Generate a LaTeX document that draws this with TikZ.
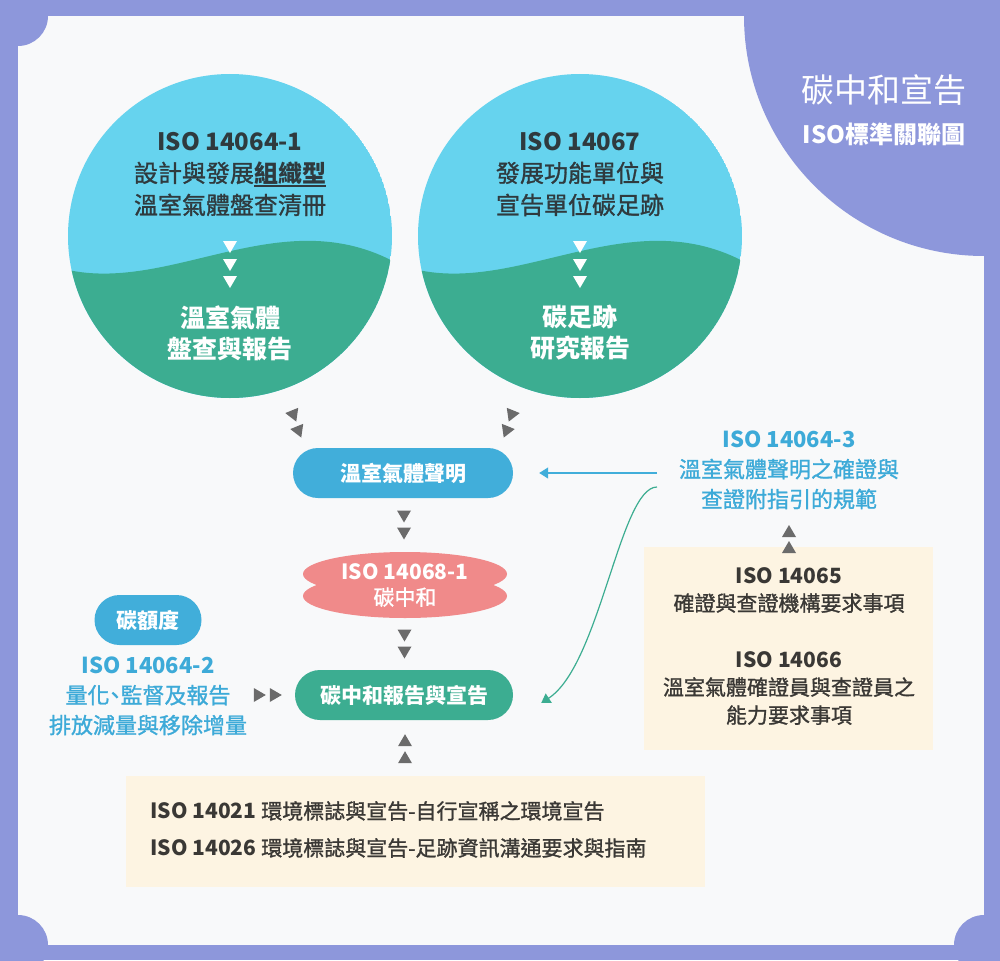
\documentclass[tikz,border=0pt]{standalone}
\usepackage{fontspec}
\setmainfont{Noto Sans CJK TC}
\newfontfamily\medfont{Noto Sans CJK TC}[UprightFeatures={FakeBold=1.2}]
\usetikzlibrary{calc,arrows.meta}
\definecolor{purp}{HTML}{8D97DB}
\definecolor{panel}{HTML}{F8F9FA}
\definecolor{sky}{HTML}{66D3EE}
\definecolor{sea}{HTML}{3CAD91}
\definecolor{pillblue}{HTML}{41AEDA}
\definecolor{txtblue}{HTML}{3DAAD8}
\definecolor{rose}{HTML}{F08A8A}
\definecolor{cream}{HTML}{FDF4E2}
\definecolor{gry}{HTML}{6B6B6B}
\definecolor{dark}{HTML}{3A3835}
\definecolor{slate}{HTML}{2F3A3E}
\newcommand{\ulbar}[1]{\setbox0=\hbox{#1}\rlap{\rule[-5pt]{\wd0}{1.8pt}}\box0}

\begin{document}
\begin{tikzpicture}[x=1pt,y=-1pt,
  pill/.style={rounded corners=25pt,minimum height=50pt,inner sep=0pt,text=white,font=\fontsize{21}{25}\selectfont\bfseries},
  tri/.pic={\fill (-7,-6)--(7,-6)--(0,6)--cycle;}]
\useasboundingbox (0,0) rectangle (1000,960);
% frame
\fill[purp] (0,0) rectangle (1000,960);
\fill[panel] (18,16) rectangle (984,945);
\fill[purp] (984,16) circle (240pt);
\fill[purp] (18,16) circle (30pt) (18,945) circle (30pt) (984,945) circle (30pt);
\node[white,font=\fontsize{33}{36}\selectfont] (t) at (884,90) {碳中和宣告};
\node[white,font=\fontsize{24}{28}\selectfont\bfseries] (s) at (884,134) {ISO標準關聯圖};

% two circles
\node[circle,minimum size=324pt,inner sep=0pt] (cl) at (230,236) {};
\node[circle,minimum size=324pt,inner sep=0pt] (cr) at (580,236) {};
\begin{scope}
\clip (cl.center) circle (162pt);
\fill[sky] (cl.center) circle (162pt);
\fill[sea] (60,268) .. controls (170,298) and (285,194) .. (405,268) -- (405,420) -- (60,420) -- cycle;
\end{scope}
\begin{scope}
\clip (cr.center) circle (162pt);
\fill[sky] (cr.center) circle (162pt);
\fill[sea] (410,268) .. controls (520,298) and (635,194) .. (755,268) -- (755,420) -- (410,420) -- cycle;
\end{scope}
\begin{scope}[every node/.style={align=center}]
\node[slate,font=\fontsize{24}{32}\selectfont\medfont] (a1) at (230,174) {\textbf{ISO 14064-1}\\設計與發展\ulbar{\textbf{組織型}}\\溫室氣體盤查清冊};
\node[white,font=\fontsize{25}{31}\selectfont\bfseries] (a2) at (230,333) {溫室氣體\\盤查與報告};
\node[slate,font=\fontsize{24}{32}\selectfont\medfont] (b1) at (580,174) {\textbf{ISO 14067}\\發展功能單位與\\宣告單位碳足跡};
\node[white,font=\fontsize{25}{31}\selectfont\bfseries] (b2) at (580,333) {碳足跡\\研究報告};
\end{scope}
\pic[fill=white] at (230,247) {tri};
\pic[fill=white] at (230,265) {tri};
\pic[fill=white] at (230,282) {tri};
\pic[fill=white] at (580,247) {tri};
\pic[fill=white] at (580,265) {tri};
\pic[fill=white] at (580,282) {tri};
\pic[fill=gry,rotate=22] at (294,416) {tri};
\pic[fill=gry,rotate=22] at (299,432) {tri};
\pic[fill=gry,rotate=-22] at (511,416) {tri};
\pic[fill=gry,rotate=-22] at (506,432) {tri};

% middle column
\node[pill,fill=pillblue,minimum width=220pt] (ghg) at (403,473) {溫室氣體聲明};
\fill[rose] (405,574) ellipse [x radius=102pt,y radius=22pt];
\fill[rose] (405,596) ellipse [x radius=102pt,y radius=22pt];
\node[white,align=center,minimum width=204pt,minimum height=66pt,font=\fontsize{21}{26}\selectfont\medfont] (cn) at (405,585) {\textbf{ISO 14068-1}\\碳中和};
\node[pill,fill=sea,minimum width=218pt] (rep) at (404,695) {碳中和報告與宣告};
\pic[fill=gry] at ($(ghg.south)!.5!(cn.north)+(0,-8.5)$) {tri};
\pic[fill=gry] at ($(ghg.south)!.5!(cn.north)+(0,8.5)$) {tri};
\pic[fill=gry] at ($(cn.south)!.5!(rep.north)+(0,-8.5)$) {tri};
\pic[fill=gry] at ($(cn.south)!.5!(rep.north)+(0,8.5)$) {tri};

% left side
\node[pill,fill=pillblue,minimum width=107pt] (cd) at (148,620) {碳額度};
\node[txtblue,align=center,font=\fontsize{22}{30}\selectfont\medfont] (i2) at (148,696) {\textbf{ISO 14064-2}\\量化\makebox[0.5em][c]{、}監督及報告\\排放減量與移除增量};
\pic[fill=gry,rotate=90] at ($(rep.west)+(-35,0)$) {tri};
\pic[fill=gry,rotate=90] at ($(rep.west)+(-19,0)$) {tri};

% bottom box
\fill[cream] (126,776) rectangle (705,887);
\node[dark,anchor=west,align=left,font=\fontsize{21}{37}\selectfont\medfont] (bb) at (147,829.5) {\textbf{ISO 14021} 環境標誌與宣告-自行宣稱之環境宣告\\\textbf{ISO 14026} 環境標誌與宣告-足跡資訊溝通要求與指南};
\pic[fill=gry,rotate=180] at ($(rep.south)+(1,20)$) {tri};
\pic[fill=gry,rotate=180] at ($(rep.south)+(1,37)$) {tri};

% right side
\node[txtblue,align=center,font=\fontsize{22}{30}\selectfont\medfont] (i3) at (789,470) {\textbf{ISO 14064-3}\\溫室氣體聲明之確證與\\查證附指引的規範};
\fill[cream] (644,547) rectangle (933,750);
\node[dark,align=center,font=\fontsize{21}{28}\selectfont\medfont] (rb) at (789,646) {\textbf{ISO 14065}\\確證與查證機構要求事項\\[28pt]\textbf{ISO 14066}\\溫室氣體確證員與查證員之\\能力要求事項};
\pic[fill=gry,rotate=180] at (789,531) {tri};
\pic[fill=gry,rotate=180] at (789,547) {tri};
\coordinate (p) at (657,473);
\coordinate (q) at (657,487);
\draw[pillblue,line width=1.3pt,-{Triangle[length=9pt,width=11pt]},shorten >=26pt] (p) -- (ghg.east);
\draw[sea,line width=1.2pt,-{Triangle[length=9pt,width=11pt]}] (q) .. controls (620,487) and (600,665) .. ([xshift=28pt,yshift=-8pt]rep.east);
\end{tikzpicture}
\end{document}
